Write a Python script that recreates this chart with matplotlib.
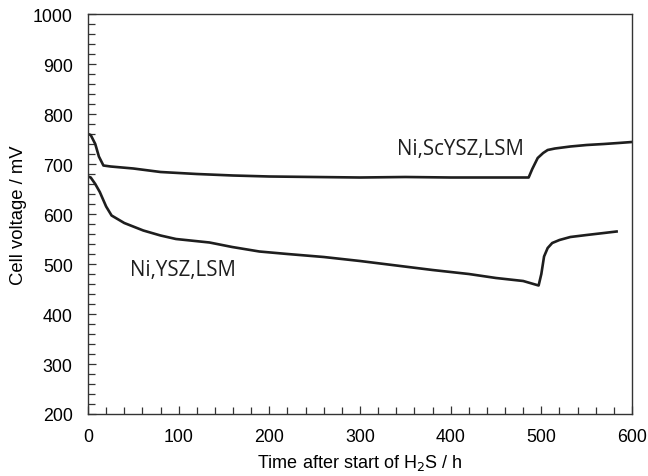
import matplotlib
matplotlib.use('Agg')
import matplotlib.pyplot as plt
from matplotlib.ticker import MultipleLocator

# data
t_sc = [0, 3, 8, 12, 17, 25, 50, 80, 120, 160, 200, 250, 300, 350, 400, 450, 486,
        490, 496, 502, 507, 515, 532, 550, 569, 585, 600]
v_sc = [760, 758, 740, 715, 697, 695, 691, 684, 680, 677, 675, 674, 673, 674, 673, 673, 673,
        690, 712, 722, 728, 731, 735, 738, 740, 742, 744]

t_y = [0, 3, 8, 13, 20, 26, 40, 61, 80, 97, 134, 159, 189, 220, 260, 300, 340, 380,
       420, 450, 480, 497, 500, 503, 507, 512, 520, 532, 550, 569, 583]
v_y = [675, 673, 660, 644, 615, 597, 582, 567, 557, 550, 543, 534, 525, 520, 514, 506, 497, 488,
       480, 472, 466, 457, 480, 515, 532, 542, 548, 554, 558, 562, 565]

label_sc = 'Ni,ScYSZ,LSM'
label_y = 'Ni,YSZ,LSM'

plt.rcParams['font.family'] = ['Liberation Sans', 'DejaVu Sans']

fig = plt.figure(figsize=(6.48, 4.77), dpi=100)
ax = fig.add_axes([88 / 648, 62 / 477, 544 / 648, 400 / 477])

ax.plot(t_sc, v_sc, color='#1e1e1e', lw=1.9)
ax.plot(t_y, v_y, color='#1e1e1e', lw=1.9)

ax.text(341, 730, label_sc, fontsize=14.8, family='Open Sans', va='center', color='#1e1e1e')
ax.text(46, 489, label_y, fontsize=14.8, family='Open Sans', va='center', color='#1e1e1e')

ax.set_xlim(0, 600)
ax.set_ylim(200, 1000)
ax.xaxis.set_major_locator(MultipleLocator(100))
ax.xaxis.set_minor_locator(MultipleLocator(20))
ax.yaxis.set_major_locator(MultipleLocator(100))
ax.yaxis.set_minor_locator(MultipleLocator(20))
ax.tick_params(which='both', direction='in', width=0.9, color='#333333')
ax.tick_params(which='major', length=6, labelsize=12.8)
ax.tick_params(axis='y', which='major', pad=11)
ax.tick_params(axis='x', which='major', pad=10)
ax.tick_params(which='minor', length=5)
for s in ax.spines.values():
    s.set_linewidth(1.0)
    s.set_color('#333333')

ax.set_xlabel('Time after start of H$_2$S / h', fontsize=13, labelpad=5)
ax.set_ylabel('Cell voltage / mV', fontsize=13.3, labelpad=4)

fig.savefig('out.png', dpi=100)
